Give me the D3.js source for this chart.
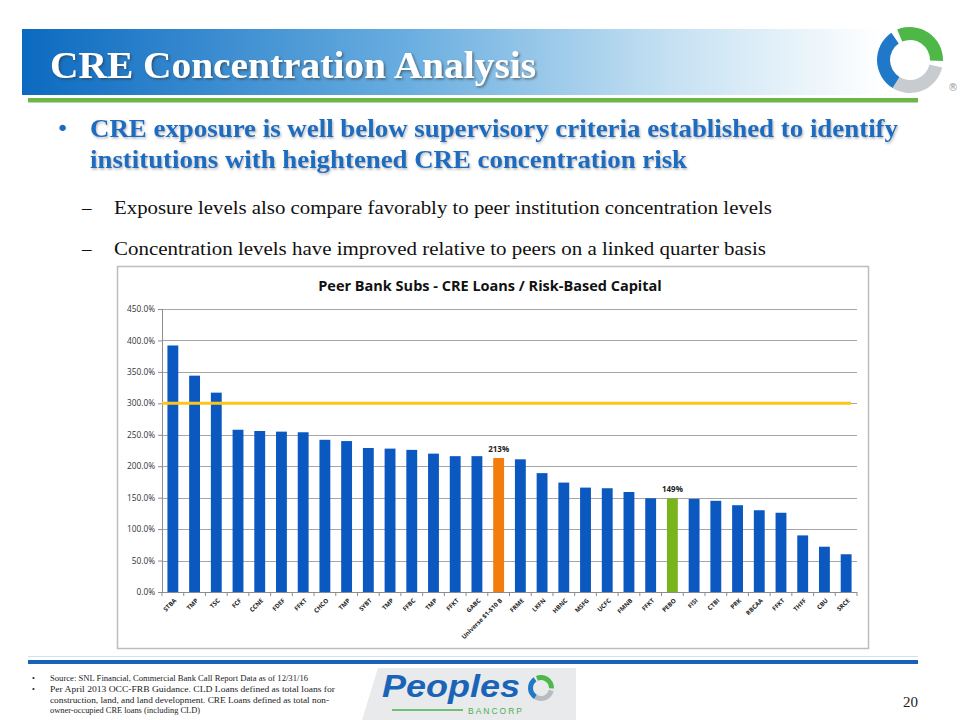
<!DOCTYPE html>
<html><head><meta charset="utf-8">
<script src="https://cdn.jsdelivr.net/npm/d3@7"></script>
<style>body{margin:0;background:#fff}svg{display:block}</style>
</head><body>
<script>
const categories = ["STBA","TMP","TSC","FCF","CCNE","FDEF","FFKT","CHCO","TMP","SYBT","TMP","FFBC","TMP","FFKT","GABC","Universe $1-$10 B","FRME","LKFN","HBNC","MSFG","UCFC","FMNB","FFKT","PEBO","FISI","CTBI","PRK","RBCAA","FFKT","THFF","CBU","SRCE"];
const values = [392,344,317,258,256,255,254,242,240,229,228,226,220,216,216,213,211,189,174,166,165,159,149,149,148,145,138,130,126,90,72,60];
const yTicks = [0,50,100,150,200,250,300,350,400,450];
const threshold = 300;
const labelled = {"Universe $1-$10 B":"213%","PEBO":"149%"};

const W=960,H=720;
const svg=d3.select("body").append("svg").attr("width",W).attr("height",H);
const defs=svg.append("defs");
const g1=defs.append("linearGradient").attr("id","hdr").attr("x1","0").attr("x2","1");
g1.append("stop").attr("offset","0").attr("stop-color","#0b6ac0");
g1.append("stop").attr("offset","0.45").attr("stop-color","#6aaee0");
g1.append("stop").attr("offset","0.75").attr("stop-color","#c4e0f2");
g1.append("stop").attr("offset","1").attr("stop-color","#ffffff");
const sh=defs.append("filter").attr("id","sh").attr("x","-5%").attr("y","-20%").attr("width","110%").attr("height","140%");
sh.append("feDropShadow").attr("dx",1.5).attr("dy",1.5).attr("stdDeviation",1).attr("flood-color","#333").attr("flood-opacity",0.6);
const sh2=defs.append("filter").attr("id","sh2");
sh2.append("feDropShadow").attr("dx",1).attr("dy",1.5).attr("stdDeviation",0.8).attr("flood-color","#666").attr("flood-opacity",0.5);

// header
svg.append("rect").attr("x",22).attr("y",29).attr("width",860).attr("height",66).attr("fill","url(#hdr)");
svg.append("text").attr("x",50).attr("y",78).attr("fill","#fff").attr("font-family","Liberation Serif, serif")
  .attr("font-size",38).attr("font-weight","bold").attr("filter","url(#sh)").text("CRE Concentration Analysis")
  .attr("textLength",486).attr("lengthAdjust","spacingAndGlyphs");
svg.append("rect").attr("x",28).attr("y",98).attr("width",890).attr("height",4).attr("fill","#6cb64a");
svg.append("rect").attr("x",28).attr("y",102).attr("width",890).attr("height",1).attr("fill","#b9d8a8");

// top logo
const lg=svg.append("g").attr("transform","translate(910,60)");
lg.append("path").attr("d",d3.arc()({innerRadius:20,outerRadius:33,startAngle:-2.6,endAngle:-0.6})).attr("fill","#1f78c8");
lg.append("path").attr("d",d3.arc()({innerRadius:20,outerRadius:33,startAngle:-0.4,endAngle:1.6})).attr("fill","#4db848");
lg.append("path").attr("d",d3.arc()({innerRadius:20,outerRadius:33,startAngle:1.8,endAngle:3.7})).attr("fill","#c8ccd0");
lg.append("text").attr("x",38).attr("y",31).attr("font-size",10).attr("fill","#999").attr("font-family","DejaVu Sans").text("®");

// bullets
const blue="#1a6cc0";
svg.append("text").attr("x",56).attr("y",136).attr("font-size",22).attr("fill",blue).attr("font-family","DejaVu Sans").text("•");
const b1=svg.append("g").attr("font-family","Liberation Serif, serif").attr("font-size",25).attr("font-weight","bold").attr("fill",blue).attr("filter","url(#sh2)");
b1.append("text").attr("x",90).attr("y",137).text("CRE exposure is well below supervisory criteria established to identify")
  .attr("textLength",808).attr("lengthAdjust","spacingAndGlyphs");
b1.append("text").attr("x",90).attr("y",168).text("institutions with heightened CRE concentration risk")
  .attr("textLength",597).attr("lengthAdjust","spacingAndGlyphs");
const sb=svg.append("g").attr("font-family","Liberation Serif, serif").attr("font-size",19).attr("fill","#111");
sb.append("text").attr("x",82).attr("y",214).text("–");
sb.append("text").attr("x",114).attr("y",214).text("Exposure levels also compare favorably to peer institution  concentration levels")
  .attr("textLength",658).attr("lengthAdjust","spacingAndGlyphs");
sb.append("text").attr("x",82).attr("y",255).text("–");
sb.append("text").attr("x",114).attr("y",255).text("Concentration levels have improved relative to peers on a linked quarter basis")
  .attr("textLength",652).attr("lengthAdjust","spacingAndGlyphs");

// chart box
svg.append("rect").attr("x",117.5).attr("y",266.5).attr("width",751).attr("height",382).attr("fill","#fff").attr("stroke","#bdbdbd").attr("stroke-width",1.5);
svg.append("text").attr("x",490).attr("y",291).attr("text-anchor","middle").attr("font-family","Open Sans, DejaVu Sans, sans-serif")
  .attr("font-weight","bold").attr("font-size",14.5).attr("fill","#111").text("Peer Bank Subs - CRE Loans / Risk-Based Capital");

const x0=162,x1=857,yTop=309,yBot=592;
const x=d3.scaleBand().domain(d3.range(categories.length)).range([x0,x1]).paddingInner(0.5).paddingOuter(0.25);
const y=d3.scaleLinear().domain([0,450]).range([yBot,yTop]);

const grid=svg.append("g");
grid.selectAll("line").data(yTicks.slice(1)).join("line").attr("x1",x0).attr("x2",x1)
  .attr("y1",d=>Math.round(y(d))+0.5).attr("y2",d=>Math.round(y(d))+0.5).attr("stroke","#a6a6a6").attr("stroke-width",1);

const yAxis=svg.append("g").attr("transform",`translate(${x0},0)`)
  .call(d3.axisLeft(y).tickValues(yTicks).tickSize(4).tickFormat(d=>d3.format(".1f")(d)+"%"));
yAxis.select(".domain").attr("stroke","#8c8c8c");
yAxis.selectAll(".tick line").attr("stroke","#8c8c8c");
yAxis.selectAll("text").attr("font-family","Open Sans, DejaVu Sans, sans-serif").attr("font-size",8.3).attr("fill","#333");

svg.append("g").selectAll("rect").data(values).join("rect")
  .attr("x",(d,i)=>x(i)).attr("width",x.bandwidth()).attr("y",d=>y(d)).attr("height",d=>y(0)-y(d))
  .attr("fill",(d,i)=>categories[i]==="PEBO"?"#78b41e":categories[i].startsWith("Universe")?"#f27c0c":"#0a58c0");

// threshold line
svg.append("line").attr("x1",x0).attr("x2",851).attr("y1",y(threshold)).attr("y2",y(threshold)).attr("stroke","#ffc41a").attr("stroke-width",3);

// x axis
const step=x.step();
const xAxis=svg.append("g").attr("transform",`translate(0,${yBot})`);
xAxis.append("line").attr("x1",x0).attr("x2",x1).attr("y1",0.5).attr("y2",0.5).attr("stroke","#8c8c8c");
xAxis.selectAll("line.t").data(d3.range(categories.length+1)).join("line").attr("class","t")
  .attr("x1",i=>x0+i*step).attr("x2",i=>x0+i*step).attr("y1",0).attr("y2",4).attr("stroke","#8c8c8c");
xAxis.selectAll("text").data(categories).join("text")
  .attr("transform",(d,i)=>`translate(${x(i)+x.bandwidth()/2+4},${9}) rotate(-45)`)
  .attr("text-anchor","end").attr("font-family","Open Sans, DejaVu Sans, sans-serif").attr("font-size",6.2).attr("font-weight","bold").attr("fill","#222")
  .text(d=>d);

// value labels
svg.append("g").selectAll("text").data(values.map((v,i)=>[v,i]).filter(([v,i])=>labelled[categories[i]])).join("text")
  .attr("x",([v,i])=>x(i)+x.bandwidth()/2).attr("y",([v,i])=>y(v)-6).attr("text-anchor","middle")
  .attr("font-family","Open Sans, DejaVu Sans, sans-serif").attr("font-size",8).attr("font-weight","bold").attr("fill","#222")
  .text(([v,i])=>labelled[categories[i]]);

// footer
svg.append("rect").attr("x",28).attr("y",656).attr("width",890).attr("height",1).attr("fill","#cfe0f0");
svg.append("rect").attr("x",28).attr("y",660).attr("width",890).attr("height",4).attr("fill","#1a62b8");
const fn=svg.append("g").attr("font-family","Liberation Serif, serif").attr("font-size",8).attr("fill","#222");
const foot=[[32,681,"•",0],[50,681,"Source: SNL Financial, Commercial Bank Call Report Data as of 12/31/16",258],[32,692,"•",0],[50,692,"Per April 2013  OCC-FRB  Guidance.  CLD Loans defined as total loans for",285],[50,703,"construction, land, and land development.  CRE Loans defined as total  non-",279],[50,713,"owner-occupied CRE loans (including CLD)",150]];
fn.selectAll("text").data(foot).join("text").attr("x",d=>d[0]).attr("y",d=>d[1]).text(d=>d[2])
  .each(function(d){ if(d[3]) d3.select(this).attr("textLength",d[3]).attr("lengthAdjust","spacingAndGlyphs"); });
// peoples logo
const pl=svg.append("g");
pl.append("path").attr("d","M362,720 L378,668 L576,668 L576,720 Z").attr("fill","#e8eaec");
pl.append("text").attr("x",382).attr("y",697).attr("font-family","Liberation Sans, sans-serif").attr("font-style","italic").attr("font-weight","bold")
  .attr("font-size",31).attr("fill","#1a64b8").text("Peoples").attr("textLength",138).attr("lengthAdjust","spacingAndGlyphs");
pl.append("line").attr("x1",392).attr("x2",463).attr("y1",710).attr("y2",710).attr("stroke","#4caf50").attr("stroke-width",1.5);
pl.append("text").attr("x",468).attr("y",714).attr("font-family","Liberation Sans, sans-serif").attr("font-size",8.5).attr("letter-spacing",2).attr("fill","#4caf50").text("BANCORP");
const sl=pl.append("g").attr("transform","translate(541,688)");
sl.append("path").attr("d",d3.arc()({innerRadius:8,outerRadius:13,startAngle:-2.6,endAngle:-0.6})).attr("fill","#1f78c8");
sl.append("path").attr("d",d3.arc()({innerRadius:8,outerRadius:13,startAngle:-0.4,endAngle:1.6})).attr("fill","#4db848");
sl.append("path").attr("d",d3.arc()({innerRadius:8,outerRadius:13,startAngle:1.8,endAngle:3.7})).attr("fill","#b8bcc0");
svg.append("text").attr("x",903).attr("y",707).attr("font-family","Liberation Serif, serif").attr("font-size",15).attr("fill","#222").text("20");
</script>
</body></html>
